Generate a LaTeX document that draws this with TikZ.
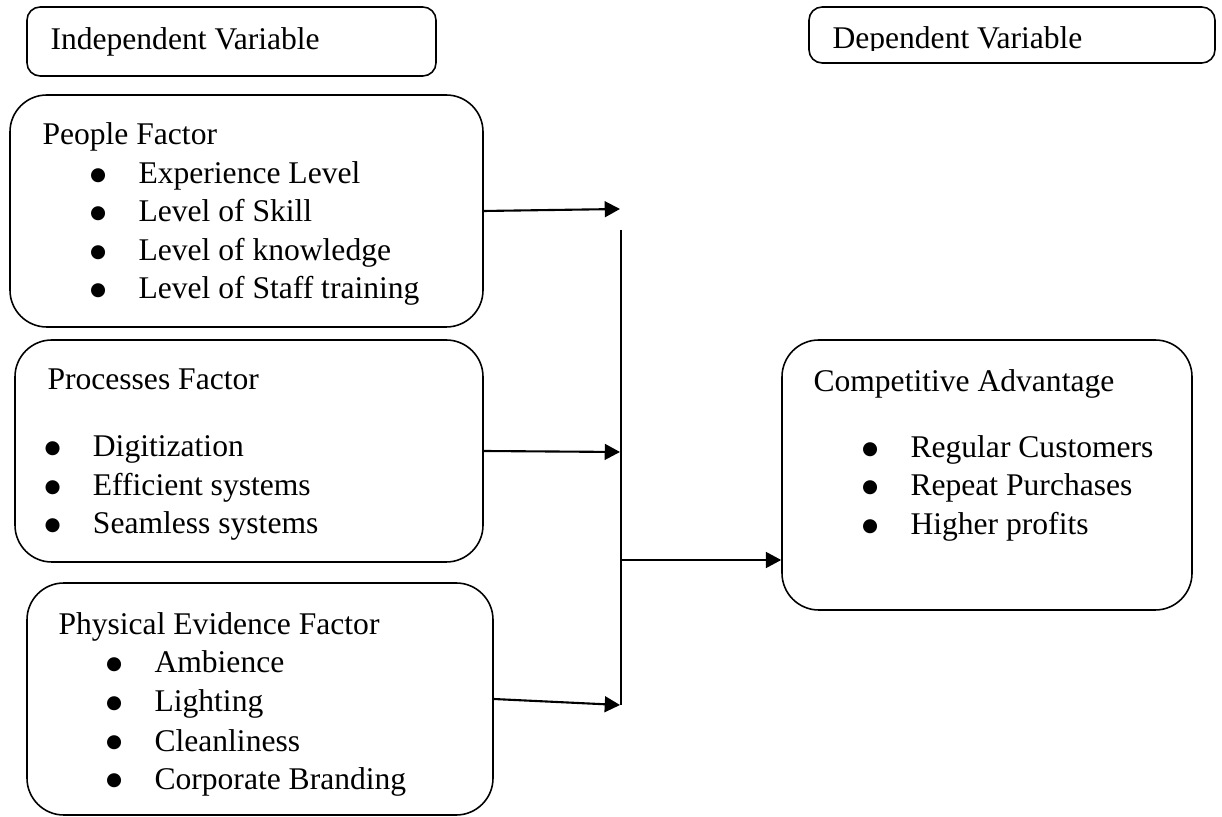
\documentclass[tikz,border=0pt]{standalone}
\usepackage{fontspec}
\setmainfont{Liberation Serif}
\newfontfamily\dejavu{DejaVu Sans}
\usetikzlibrary{arrows.meta,fit}

\newcommand\bul{\makebox[18.4pt][l]{\raisebox{1.2pt}{\dejavu\fontsize{7}{8}\selectfont ●}}}

\tikzset{
  smallbox/.style={draw, rounded corners=5pt, line width=0.6pt, inner sep=0pt},
  bigbox/.style={draw, rounded corners=14pt, line width=0.6pt, inner sep=0pt},
  txt/.style={anchor=base west, inner sep=0pt, font=\fontsize{12}{14}\selectfont},
  arr/.style={line width=0.8pt, -{Triangle[length=5.8pt,width=6pt]}},
  busline/.style={line width=0.8pt}
}

\begin{document}
\begin{tikzpicture}[x=0.38pt, y=-0.38pt]
\useasboundingbox (0,0) rectangle (1222,817);

% headings
\node[smallbox, fit={(27,7) (436,76)}] (indep) {};
\node[txt] (indepT) at (50,50) {Independent Variable};
\node[smallbox, fit={(809,7) (1215,63)}] (dep) {};
\begin{scope}
\clip (809,7) rectangle (1215,51);
\node[txt] (depT) at (832,49) {Dependent Variable};
\end{scope}

% people
\node[bigbox, fit={(10,95) (483,327)}] (people) {};
\node[txt] (peopleT) at (42,145) {People Factor};
\node[txt] (people1) at (89.6,184) {\bul Experience Level};
\node[txt] (people2) at (89.6,222) {\bul Level of Skill};
\node[txt] (people3) at (89.6,261) {\bul Level of knowledge};
\node[txt] (people4) at (89.6,299) {\bul Level of Staff training};

% processes
\node[bigbox, fit={(15,340) (483,562)}] (proc) {};
\node[txt] (procT) at (47,390) {Processes Factor};
\node[txt] (proc1) at (44,457) {\bul Digitization};
\node[txt] (proc2) at (44,496) {\bul Efficient systems};
\node[txt] (proc3) at (44,534) {\bul Seamless systems};

% physical evidence
\node[bigbox, fit={(27,583) (493,815)}] (phys) {};
\node[txt] (physT) at (58,635) {Physical Evidence Factor};
\node[txt] (phys1) at (105.6,673) {\bul Ambience};
\node[txt] (phys2) at (105.6,712) {\bul Lighting};
\node[txt] (phys3) at (105.6,751) {\bul Cleanliness};
\node[txt] (phys4) at (105.6,789) {\bul Corporate Branding};

% competitive advantage
\node[bigbox, fit={(782,340) (1192,610)}] (comp) {};
\node[txt] (compT) at (813,392) {Competitive Advantage};
\node[txt] (comp1) at (861.6,458) {\bul Regular Customers};
\node[txt] (comp2) at (861.6,496) {\bul Repeat Purchases};
\node[txt] (comp3) at (861.6,535) {\bul Higher profits};

% connectors
\coordinate (tipP) at (620,209);
\coordinate (tipR) at (620,452);
\coordinate (tipY) at (620,705);
\coordinate (busTop) at (621,230);
\coordinate (busBot) at (621,705);
\coordinate (busC) at (621,560);
\draw[arr] (people.east) -- (tipP);
\draw[arr] (proc.east) -- (tipR);
\draw[arr] (phys.east) -- (tipY);
\draw[busline] (busTop) -- (busBot);
\draw[arr] (busC) -- (busC -| comp.west);
\end{tikzpicture}
\end{document}
